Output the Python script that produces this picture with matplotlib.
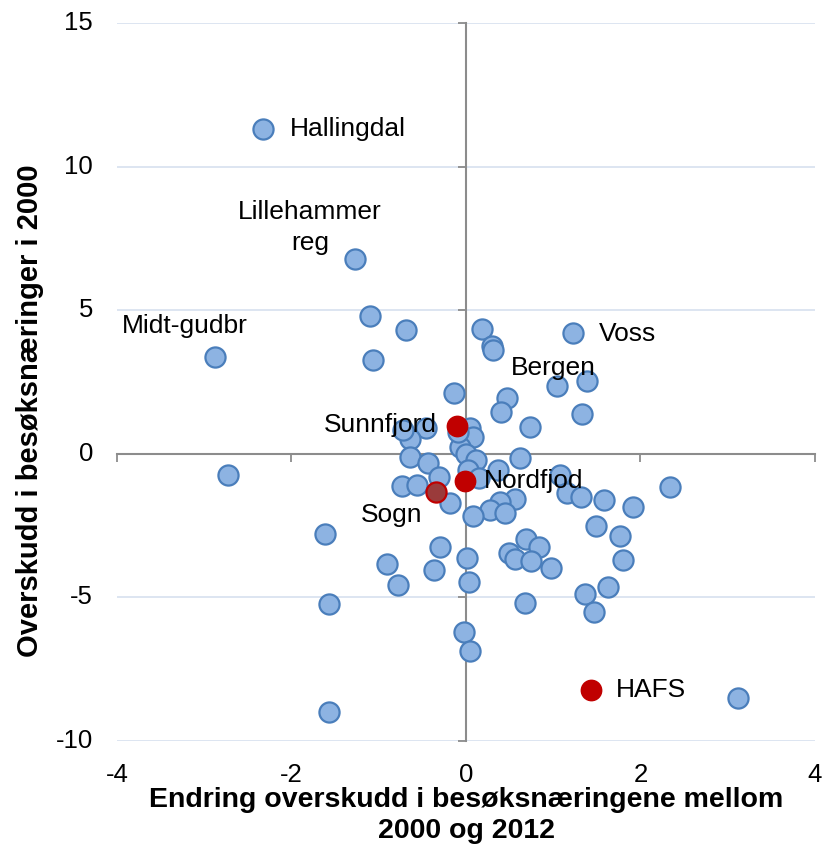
import matplotlib
matplotlib.use("Agg")
import matplotlib.pyplot as plt

plt.rcParams['font.family'] = ['Liberation Sans', 'DejaVu Sans']

# blue regions (x = change 2000-2012, y = surplus 2000)
blue_x = [-2.33, -1.27, -2.88, -2.73, -1.10, -0.69, -1.07, -0.14, 0.05, 0.08,
          -0.07, 0.00, 0.12, -0.09, -0.46, -0.64, -0.64, -0.43, -0.31, -0.73,
          -0.56, -0.18, -0.72, 0.18, 0.30, 0.31, 1.23, 1.04, 1.39, 0.47,
          0.40, 1.33, 0.73, 0.62, 0.37, 0.02, 0.15, 1.08, 1.16, 1.32,
          1.58, 1.91, 2.34, 0.56, 0.39, 0.27, 0.45, 0.08, 1.49, 1.77,
          1.80, 0.69, 0.84, 0.49, 0.56, 0.75, 0.98, 0.01, 0.03, 0.68,
          1.36, 1.63, 1.47, -0.02, 0.05, -1.61, -0.91, -0.78, -0.30, -0.37,
          -1.57, -1.57, 3.12]
blue_y = [11.32, 6.79, 3.38, -0.73, 4.80, 4.32, 3.27, 2.12, 0.91, 0.58,
          0.25, 0.00, -0.20, 0.77, 0.90, 0.52, -0.10, -0.33, -0.80, -1.11,
          -1.08, -1.71, 0.84, 4.35, 3.76, 3.62, 4.21, 2.37, 2.55, 1.96,
          1.47, 1.39, 0.94, -0.14, -0.56, -0.56, -0.84, -0.73, -1.36, -1.49,
          -1.60, -1.85, -1.15, -1.57, -1.67, -1.95, -2.05, -2.15, -2.53, -2.86,
          -3.71, -2.96, -3.26, -3.46, -3.65, -3.73, -3.96, -3.61, -4.48, -5.20,
          -4.88, -4.64, -5.51, -6.22, -6.87, -2.80, -3.83, -4.56, -3.25, -4.04,
          -5.22, -8.98, -8.50]

# highlighted regions
red_names = ["Sunnfjord", "Nordfjod", "HAFS"]
red_x = [-0.10, -0.01, 1.43]
red_y = [0.97, -0.94, -8.22]
sogn_x = [-0.34]
sogn_y = [-1.32]

# text labels
label_text = ["Hallingdal", "Lillehammer\nreg", "Midt-gudbr", "Voss", "Bergen",
              "Sunnfjord", "Nordfjod", "Sogn", "HAFS"]
label_x = [-2.02, -1.79, -3.94, 1.52, 0.52, -0.33, 0.21, -1.20, 1.72]
label_y = [11.32, 7.87, 4.46, 4.18, 2.99, 1.01, -0.94, -2.12, -8.22]
label_ha = ["left", "center", "left", "left", "left", "right", "left", "left", "left"]

x_ticks = [-4, -2, 0, 2, 4]
y_ticks = [-10, -5, 0, 5, 10, 15]

fig = plt.figure(figsize=(8.22, 8.44), dpi=100)
ax = fig.add_axes([0.1423, 0.122, 0.8491, 0.8507])
ax.set_xlim(-4, 4)
ax.set_ylim(-10, 15)

for yv in y_ticks:
    if yv != 0:
        ax.axhline(yv, color="#dae3f0", lw=1.3, zorder=0)

ax.spines['top'].set_visible(False)
ax.spines['right'].set_visible(False)
ax.spines['left'].set_position(('data', 0))
ax.spines['bottom'].set_position(('data', 0))
for s in ['left', 'bottom']:
    ax.spines[s].set_color("#8c8c8c")
    ax.spines[s].set_linewidth(1.5)
    ax.spines[s].set_zorder(1)

ax.set_xticks(x_ticks)
ax.set_yticks(y_ticks)
ax.tick_params(axis='both', direction='out', length=6, width=1.3, color="#8c8c8c",
               labelleft=False, labelbottom=False)

for xv in x_ticks:
    ax.text(xv, -0.047, str(xv), transform=ax.get_xaxis_transform(),
            ha="center", va="center", fontsize=18.5)
for yv in y_ticks:
    ax.text(-0.034, yv, str(yv), transform=ax.get_yaxis_transform(),
            ha="right", va="center", fontsize=18.5)

ax.scatter(blue_x, blue_y, s=210, color="#8db3e2", edgecolor="#4a7ebb",
           linewidth=1.6, zorder=3)
ax.scatter(red_x, red_y, s=210, color="#c00000", edgecolor="#c00000",
           linewidth=1.2, zorder=4)
ax.scatter(sogn_x, sogn_y, s=210, color="#9a3b3b", edgecolor="#c00000",
           linewidth=1.6, zorder=4)

for t, lx, ly, ha in zip(label_text, label_x, label_y, label_ha):
    ax.text(lx, ly, t, ha=ha, va="center", fontsize=19, zorder=5,
            linespacing=1.35)

fig.text(0.567, 0.034, "Endring overskudd i besøksnæringene mellom\n2000 og 2012",
         ha="center", va="center", fontsize=20.5, fontweight="bold", linespacing=1.25)
fig.text(0.037, 0.513, "Overskudd i besøksnæringer i 2000", rotation=90,
         ha="center", va="center", fontsize=21, fontweight="bold")

fig.savefig("out.png", dpi=100)
